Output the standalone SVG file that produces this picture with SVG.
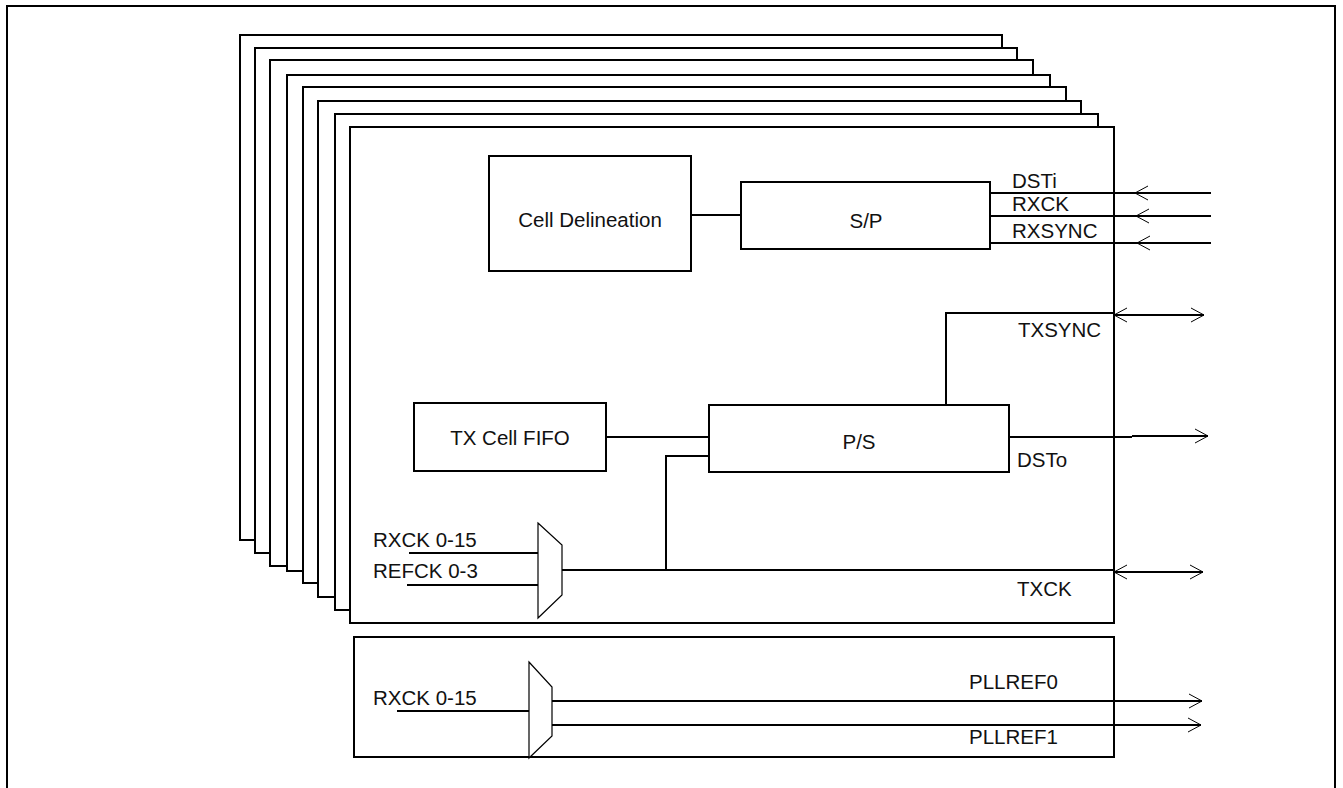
<svg xmlns="http://www.w3.org/2000/svg" width="1343" height="788" viewBox="0 0 1343 788">
<defs>
<style>
.box{fill:#fff;stroke:#000;stroke-width:2}
.mux{fill:#fff;stroke:#000;stroke-width:1.2}
.w{fill:none;stroke:#000;stroke-width:2}
text{font-family:"Liberation Sans",Arial,sans-serif;font-size:20.5px;fill:#111}
.c{text-anchor:middle}
</style>
<marker id="ah" viewBox="0 0 14 16" refX="13" refY="8" markerWidth="14" markerHeight="16" markerUnits="userSpaceOnUse" orient="auto-start-reverse">
<path d="M0,1 L13,8 L0,15" fill="none" stroke="#000" stroke-width="1"/>
</marker>
</defs>
<rect x="0" y="0" width="1343" height="788" fill="#fff"/>
<rect id="frame" x="7" y="6" width="1328" height="800" fill="none" stroke="#000" stroke-width="2"/>
<g id="stack">
<rect class="box" x="240" y="35" width="762" height="505"/>
<rect class="box" x="255" y="48" width="762" height="505"/>
<rect class="box" x="270" y="60" width="763" height="506"/>
<rect class="box" x="287" y="75" width="763" height="496"/>
<rect class="box" x="303" y="87" width="763" height="496"/>
<rect class="box" x="318" y="101" width="763" height="496"/>
<rect class="box" x="335" y="114" width="763" height="496"/>
</g>
<g id="main-card"><rect class="box" x="350" y="127" width="764" height="496"/></g>
<g id="pll-card"><rect class="box" x="354" y="637" width="760" height="120"/></g>
<g id="cell-delineation"><rect class="box" x="489" y="156" width="202" height="115"/><text class="c" x="590" y="227">Cell Delineation</text></g>
<g id="sp"><rect class="box" x="741" y="182" width="249" height="67"/><text class="c" x="866" y="228">S/P</text></g>
<g id="tx-fifo"><rect class="box" x="414" y="403" width="192" height="68"/><text class="c" x="510" y="445">TX Cell FIFO</text></g>
<g id="ps"><rect class="box" x="709" y="405" width="300" height="67"/><text class="c" x="859" y="449">P/S</text></g>
<g id="connectors">
<path class="w" d="M691,215 H741"/>
<path class="w" d="M991,193 H1135"/><path class="w" d="M1135,193 H1211" marker-start="url(#ah)"/>
<path class="w" d="M991,216 H1136"/><path class="w" d="M1136,216 H1211" marker-start="url(#ah)"/>
<path class="w" d="M991,243 H1137"/><path class="w" d="M1137,243 H1211" marker-start="url(#ah)"/>
<path class="w" d="M946,405 V313 H1114"/><path class="w" d="M1114,315 H1204" marker-start="url(#ah)" marker-end="url(#ah)"/>
<path class="w" d="M606,437 H710"/>
<path class="w" d="M1009,437 H1132"/><path class="w" d="M1132,436 H1208" marker-end="url(#ah)"/>
<path class="w" d="M666,571 V456 H710"/>
<path class="w" d="M409,553 H538"/>
<path class="w" d="M407,585 H538"/>
<path class="w" d="M562,570 H1114"/><path class="w" d="M1114,572 H1203" marker-start="url(#ah)" marker-end="url(#ah)"/>
<path class="w" d="M397,711 H529"/>
<path class="w" d="M552,701 H1202" marker-end="url(#ah)"/>
<path class="w" d="M552,725 H1201" marker-end="url(#ah)"/>
</g>
<g id="mux-tx"><polygon class="mux" points="538,523 562,545 562,595 538,618"/></g>
<g id="mux-pll"><polygon class="mux" points="529,662 552,687 552,736 529,758"/></g>
<g id="labels">
<text x="1012" y="188">DSTi</text>
<text x="1012" y="211">RXCK</text>
<text x="1012" y="238">RXSYNC</text>
<text x="1018" y="337">TXSYNC</text>
<text x="1017" y="467">DSTo</text>
<text x="373" y="547">RXCK 0-15</text>
<text x="373" y="578">REFCK 0-3</text>
<text x="1017" y="596">TXCK</text>
<text x="373" y="705">RXCK 0-15</text>
<text x="969" y="689">PLLREF0</text>
<text x="969" y="744">PLLREF1</text>
</g>
</svg>
